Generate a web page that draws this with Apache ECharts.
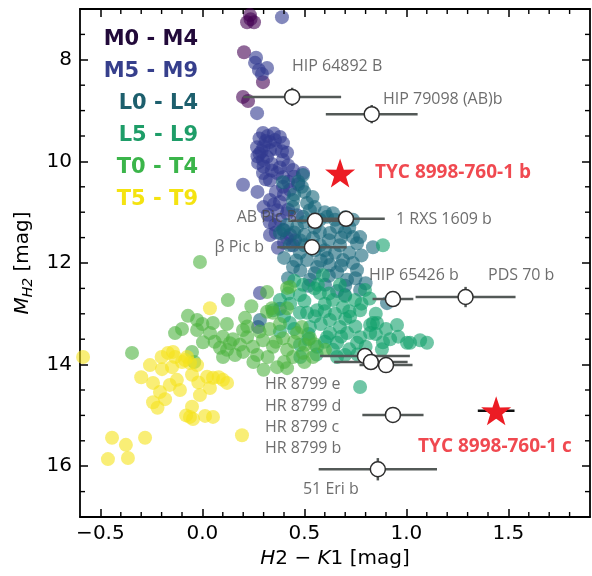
<!DOCTYPE html>
<html><head><meta charset="utf-8">
<script src="https://cdn.jsdelivr.net/npm/echarts@6/dist/echarts.min.js"></script>
<style>html,body{margin:0;padding:0;background:#fff}#c{width:592px;height:576px}</style>
</head><body><div id="c"></div>
<script>
// ---- data ----
const classNames = ['M0 - M4','M5 - M9','L0 - L4','L5 - L9','T0 - T4','T5 - T9'];
const M0_M4 = [[0.233,7.12],[0.219,7.26],[0.253,7.26],[0.236,7.20],[0.204,7.85],[0.297,8.44],[0.199,8.73],[0.224,8.81]];
const M5_M9 = [[0.390,7.16],[0.263,7.96],[0.258,8.06],[0.277,8.20],[0.317,8.16],[0.292,8.28],[0.268,9.05],
 [0.297,9.44],[0.380,9.52],[0.268,9.72],[0.415,9.83],[0.297,9.97],[0.366,10.23],[0.444,10.17],[0.493,10.23],
 [0.395,10.50],[0.331,10.76],[0.366,10.96],[0.415,11.02],[0.380,11.15],[0.415,11.51],[0.444,11.65],[0.199,10.46],
 [0.356,9.58],[0.331,9.78],[0.395,9.64],[0.317,9.91],[0.395,9.97],[0.273,10.03],[0.297,10.23],[0.395,10.31],
 [0.331,10.37],[0.429,10.56],[0.282,12.59],[0.273,13.26],[0.356,11.25],[0.331,11.45],[0.464,11.06],[0.454,11.55],
 [0.310,9.60],[0.350,9.45],[0.280,9.85],[0.340,10.05],[0.420,10.40],[0.360,10.60],[0.320,11.05],[0.400,11.35],[0.370,11.70],
 [0.280,9.55],[0.300,9.70],[0.330,9.62],[0.360,9.75],[0.390,9.80],[0.270,9.90],[0.300,10.10],[0.340,10.18],[0.380,10.12],
 [0.420,10.08],[0.450,10.30],[0.400,10.65],[0.350,10.85],[0.300,10.90],[0.380,10.80],[0.420,10.95],[0.330,11.20],
 [0.360,11.40],[0.400,11.60],[0.430,11.45],[0.470,10.45],[0.320,9.50],[0.290,9.80],[0.310,10.35],[0.270,10.60]];
const L0_L4 = [[0.395,10.41],[0.493,10.27],[0.488,10.50],[0.444,10.76],[0.513,10.82],[0.493,11.09],[0.395,11.35],
 [0.464,11.29],[0.576,11.15],[0.640,11.02],[0.738,11.15],[0.773,11.49],[0.625,11.41],[0.444,10.90],[0.415,11.25],
 [0.611,11.09],[0.660,11.29],[0.738,11.49],[0.758,11.61],[0.478,11.80],[0.611,11.90],[0.689,11.94],[0.738,12.00],
 [0.562,12.08],[0.660,12.18],[0.758,12.14],[0.709,12.33],[0.773,12.53],[0.836,11.69],[0.905,12.79],[0.478,11.55],
 [0.380,11.41],[0.513,11.94],[0.444,12.08],[0.542,11.51],[0.576,11.65],[0.674,11.65],[0.625,12.04],[0.527,12.33],
 [0.601,12.43],[0.699,12.63],[0.527,10.96],[0.576,11.39],[0.699,11.39],[0.429,11.65],[0.282,13.12],[0.380,12.90],
 [0.540,10.70],[0.460,11.95],[0.600,11.75],[0.720,11.80],
 [0.470,10.40],[0.500,10.60],[0.450,10.65],[0.550,10.90],[0.600,11.00],[0.650,11.15],[0.700,11.10],[0.500,11.20],
 [0.550,11.30],[0.450,11.40],[0.500,11.45],[0.620,11.55],[0.680,11.50],[0.720,11.30],[0.550,11.75],[0.650,11.80],
 [0.500,11.65],[0.580,11.95],[0.680,12.05],[0.750,12.30],[0.620,12.25],[0.550,12.20],[0.700,12.45],[0.800,12.40],
 [0.660,12.55],[0.480,12.15],[0.520,12.45],[0.400,11.90],[0.420,12.30],[0.780,11.85]];
const L5_L9 = [[0.493,12.43],[0.576,12.59],[0.640,12.73],[0.689,12.87],[0.562,12.93],[0.478,12.98],[0.380,12.73],
 [0.346,12.93],[0.429,13.18],[0.527,13.26],[0.625,13.12],[0.724,13.06],[0.773,12.93],[0.836,13.18],[0.822,13.38],
 [0.709,13.38],[0.611,13.46],[0.562,13.65],[0.660,13.57],[0.758,13.57],[0.954,13.22],[1.003,13.57],[1.067,13.52],
 [1.101,13.57],[0.856,13.18],[0.885,13.56],[1.018,13.57],[0.773,14.44],[0.822,13.22],[0.674,13.26],[0.773,13.46],
 [0.625,13.38],[0.513,12.98],[0.591,12.24],[0.674,12.43],[0.748,12.73],[0.797,12.53],[0.478,12.63],[0.640,13.71],
 [0.478,13.61],[0.699,13.81],[0.566,12.43],[0.885,11.65],[0.600,12.80],[0.700,13.10],[0.520,13.40],[0.430,12.80],
 [0.450,12.35],[0.550,12.50],[0.620,12.60],[0.700,12.65],[0.780,12.80],[0.850,13.00],[0.900,13.30],[0.920,13.50],
 [0.800,13.65],[0.720,13.70],[0.600,13.55],[0.520,13.50],[0.450,13.30],[0.400,13.05],[0.550,13.05],[0.650,13.00],
 [0.750,13.25],[0.850,13.40],[0.680,13.45],[0.580,13.20],[0.500,12.75],[0.600,12.95],[0.720,12.95],[0.820,12.70],
 [0.420,12.60],[0.380,13.35],[0.660,13.85],[0.760,13.80],[0.560,13.80],[0.480,13.85],[0.960,13.45],[0.880,13.70]];
const T0_T4 = [[-0.012,11.98],[0.125,12.73],[-0.071,13.04],[-0.026,13.12],[0.052,13.18],[-0.134,13.38],[-0.026,13.32],
 [0.037,13.38],[0.003,13.56],[-0.345,13.77],[-0.051,13.75],[0.209,13.08],[0.199,13.32],[0.317,12.96],[0.346,12.98],
 [0.086,13.67],[0.121,13.71],[0.160,13.81],[0.101,13.85],[0.219,13.46],[0.248,13.65],[0.297,13.52],[0.268,13.81],
 [0.346,13.65],[0.395,13.48],[0.415,13.71],[0.444,13.85],[0.366,14.05],[0.415,14.07],[0.493,13.77],[0.542,13.85],
 [0.464,13.38],[0.527,13.48],[0.488,13.26],[0.415,12.89],[0.429,12.47],[0.341,12.89],[0.135,13.58],[0.184,13.61],
 [0.415,12.49],[0.317,12.57],[0.503,13.61],[0.601,13.71],[-0.040,13.95],
 [0.060,13.55],[0.150,13.50],[0.220,13.25],[0.280,13.35],[0.330,13.30],[0.380,13.20],[0.250,13.95],[0.320,13.85],
 [0.360,13.55],[0.200,13.75],[0.100,13.45],[0.450,13.55],[0.400,13.95],[0.300,14.10],[0.500,13.95],[0.550,13.60],
 [-0.100,13.30],[0.000,13.20],[0.120,13.20],[0.240,12.85]];
const T5_T9 = [[-0.585,13.85],[-0.169,13.77],[-0.134,13.85],[-0.075,13.85],[-0.257,14.01],[-0.198,14.09],[-0.149,14.05],
 [-0.061,13.97],[-0.026,14.01],[-0.242,14.36],[-0.125,14.30],[-0.051,14.20],[0.023,14.24],[0.052,14.26],[0.101,14.30],
 [0.121,14.36],[-0.110,14.50],[-0.208,14.54],[-0.242,14.74],[-0.183,14.68],[0.037,14.46],[-0.012,14.60],[-0.051,14.83],
 [-0.061,15.03],[-0.046,15.07],[0.013,15.01],[0.052,15.03],[0.194,15.39],[-0.443,15.44],[-0.375,15.58],[-0.281,15.44],
 [-0.463,15.86],[-0.365,15.84],[0.037,12.89],[-0.144,13.75],[-0.085,13.91],
 [-0.200,13.85],[-0.100,13.95],[-0.300,14.25],[-0.160,14.40],[-0.020,14.35],[0.080,14.25],[-0.220,14.85],[-0.080,15.00]];
// companions: [x, y, xerr, yerr]
const companions = [[0.44,8.73,0.24,0.18],[0.83,9.07,0.225,0.18],[0.704,11.13,0.19,0.1],[0.552,11.17,0.12,0.1],
 [0.537,11.69,0.17,0.1],[0.934,12.71,0.10,0.1],[1.29,12.67,0.245,0.2],[0.797,13.83,0.22,0.1],[0.826,13.95,0.18,0.1],
 [0.90,14.01,0.13,0.1],[0.934,14.99,0.15,0.1],[0.86,16.06,0.29,0.22]];
// TYC 8998-760-1 b and c: [x, y, xerr]
const tycPlanets = [[0.675,10.23,0.045],[1.44,14.91,0.09]];
// labels: [text, x, y, side]
const labels = [['HIP 64892 B',0.439,8.14,'r'],['HIP 79098 (AB)b',0.885,8.79,'r'],['1 RXS 1609 b',0.949,11.15,'r'],
 ['AB Pic B',0.464,11.11,'l'],['β Pic b',0.302,11.69,'l'],['HIP 65426 b',0.817,12.24,'r'],['PDS 70 b',1.40,12.24,'r'],
 ['HR 8799 e',0.307,14.40,'r'],['HR 8799 d',0.307,14.82,'r'],['HR 8799 c',0.307,15.24,'r'],['HR 8799 b',0.307,15.66,'r'],
 ['51 Eri b',0.493,16.45,'r']];
const redLabels = [['TYC 8998-760-1 b',0.846,10.23],['TYC 8998-760-1 c',1.057,15.62]];
const xMajor = [-0.5,0,0.5,1,1.5];
const yMajor = [8,10,12,14,16];
const xMinor = [-0.4,-0.3,-0.2,-0.1,0.1,0.2,0.3,0.4,0.6,0.7,0.8,0.9,1.1,1.2,1.3,1.4,1.6,1.7,1.8];
const yMinor = [7.5,8.5,9,9.5,10.5,11,11.5,12.5,13,13.5,14.5,15,15.5,16.5];
const X_MIN = -0.6, X_MAX = 1.9, Y_MIN = 7, Y_MAX = 17;

// ---- chart ----
const pointColors = ['#440154','#30398f','#15667a','#11a06a','#4cb340','#f5e31a'];
const legendColors = ['#220a3a','#363f8c','#1d5f6d','#1e9d68','#3bb54a','#f4e311'];
const classData = [M0_M4,M5_M9,L0_L4,L5_L9,T0_T4,T5_T9];
const starPath = 'path://M50,0 L61.8,35.1 L97.6,34.5 L69.1,56.7 L79.4,91 L50,70 L20.6,91 L30.9,56.7 L2.4,34.5 L38.2,35.1 Z';
const minus = v => String(v).replace('-', '\u2212');
const fmtX = v => minus((+v).toFixed(1));

const axisLine = {show:true, onZero:false, lineStyle:{color:'#000', width:1.8}};
function xAx(pos, labels) {
  return {type:'value', position:pos, min:X_MIN, max:X_MAX,
    axisLine: axisLine,
    axisTick: {show:true, inside:true, length:8, lineStyle:{color:'#000',width:1.5}, customValues:xMajor},
    axisLabel: labels ? {show:true, customValues:xMajor, formatter:fmtX, fontFamily:'DejaVu Sans', fontSize:20, color:'#000', margin:7}
                      : {show:false},
    splitLine:{show:false}};
}
function yAx(pos, labels) {
  return {type:'value', position:pos, min:Y_MIN, max:Y_MAX, inverse:true,
    axisLine: axisLine,
    axisTick: {show:true, inside:true, length:8, lineStyle:{color:'#000',width:1.5}, customValues:yMajor},
    axisLabel: labels ? {show:true, customValues:yMajor, fontFamily:'DejaVu Sans', fontSize:20, color:'#000', margin:8}
                      : {show:false},
    splitLine:{show:false}};
}
const xAxes = [xAx('bottom',true), xAx('top',false)];
const yAxes = [yAx('left',true), yAx('right',false)];
xAxes[0].name = '{i|H}2 \u2212 {i|K}1 [mag]';
xAxes[0].nameLocation = 'middle'; xAxes[0].nameGap = 26;
xAxes[0].nameTextStyle = {fontFamily:'DejaVu Sans', fontSize:20, color:'#000', rich:{i:{fontFamily:'DejaVu Sans', fontSize:20, fontStyle:'italic', color:'#000'}}};
yAxes[0].name = '{i|M}{s|H2} [mag]';
yAxes[0].nameLocation = 'middle'; yAxes[0].nameGap = 38;
yAxes[0].nameTextStyle = {fontFamily:'DejaVu Sans', fontSize:20, color:'#000', rich:{
  i:{fontFamily:'DejaVu Sans', fontSize:20, fontStyle:'italic', color:'#000'},
  s:{fontFamily:'DejaVu Sans', fontSize:14, fontStyle:'italic', color:'#000', padding:[12,0,0,0]}}};

const series = [];
classData.forEach((d,i) => series.push({type:'scatter', name:classNames[i], data:d, symbolSize:14,
  itemStyle:{color:pointColors[i], opacity:0.6}, z:2+i, silent:true}));
function errRender(color) {
  return function(params, api) {
    const x = api.value(0), y = api.value(1), xe = api.value(2), ye = api.value(3);
    const a = api.coord([x-xe,y]), b = api.coord([x+xe,y]);
    const c = api.coord([x,y-ye]), d = api.coord([x,y+ye]);
    return {type:'group', children:[
      {type:'line', shape:{x1:a[0],y1:a[1],x2:b[0],y2:b[1]}, style:{stroke:color, lineWidth:2.5}},
      {type:'line', shape:{x1:c[0],y1:c[1],x2:d[0],y2:d[1]}, style:{stroke:color, lineWidth:2.5}}]};
  };
}
series.push({type:'custom', data:companions, renderItem:errRender('#535957'), z:10, silent:true});
series.push({type:'scatter', data:companions.map(c=>[c[0],c[1]]), symbolSize:15,
  itemStyle:{color:'#fff', borderColor:'#2e2e2e', borderWidth:1.5, opacity:1}, z:11, silent:true});
series.push({type:'custom', data:tycPlanets.map(p=>[p[0],p[1],p[2],0]), renderItem:errRender('#111'), z:12, silent:true});
series.push({type:'scatter', data:tycPlanets.map(p=>[p[0],p[1]]), symbol:starPath, symbolSize:[30,29],
  itemStyle:{color:'#ec1c24', opacity:1}, z:13, silent:true});
series.push({type:'scatter', data:labels.map(l=>({value:[l[1],l[2]], name:l[0],
    label:{show:true, position:l[3]==='r'?'right':'left', distance:0, formatter:'{b}'}})),
  symbolSize:0, z:14, silent:true,
  label:{fontFamily:'Open Sans', fontSize:16, color:'#484848'}});
series.push({type:'scatter', data:redLabels.map(l=>({value:[l[1],l[2]], name:l[0]})),
  symbolSize:0, z:14, silent:true,
  label:{show:true, position:'right', distance:0, formatter:'{b}', fontFamily:'Open Sans', fontWeight:'bold', fontSize:19, color:'#ec1c24'}});
// minor ticks drawn as thin rect symbols sitting on the frame, pushed inward
const tickStyle = {color:'#000', opacity:1};
series.push({type:'scatter', clip:false, silent:true, z:20, symbol:'rect', symbolSize:[1.4,5], symbolOffset:[0,-2.5],
  itemStyle:tickStyle, data:xMinor.map(v=>[v, Y_MAX])});
series.push({type:'scatter', clip:false, silent:true, z:20, symbol:'rect', symbolSize:[1.4,5], symbolOffset:[0,2.5],
  itemStyle:tickStyle, data:xMinor.map(v=>[v, Y_MIN])});
series.push({type:'scatter', clip:false, silent:true, z:20, symbol:'rect', symbolSize:[5,1.4], symbolOffset:[2.5,0],
  itemStyle:tickStyle, data:yMinor.map(v=>[X_MIN, v])});
series.push({type:'scatter', clip:false, silent:true, z:20, symbol:'rect', symbolSize:[5,1.4], symbolOffset:[-2.5,0],
  itemStyle:tickStyle, data:yMinor.map(v=>[X_MAX, v])});

const legendGraphics = classNames.map((n,i) => ({type:'text', right:592-198, top:29+i*32,
  style:{text:n, fill:legendColors[i], font:'bold 21px "DejaVu Sans"', textAlign:'right'}}));

const chart = echarts.init(document.getElementById('c'), null, {renderer:'canvas'});
chart.setOption({animation:false, backgroundColor:'#fff',
  grid:{left:80, right:2, top:9, bottom:59}, xAxis:xAxes, yAxis:yAxes, series:series, graphic:legendGraphics});
</script></body></html>
